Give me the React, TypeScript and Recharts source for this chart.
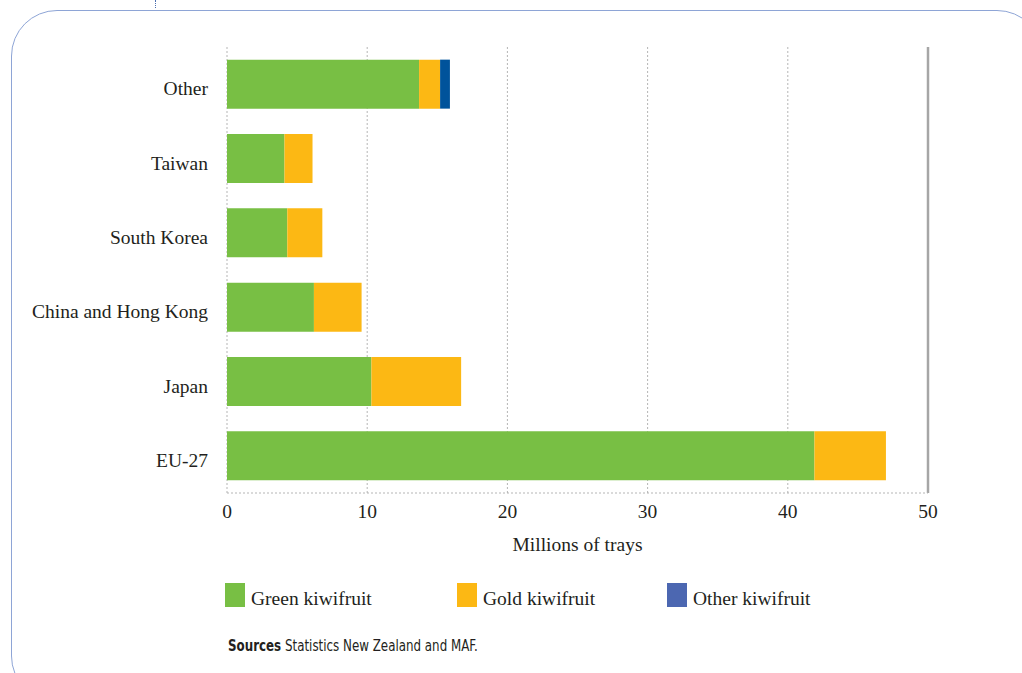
import { BarChart, Bar, XAxis, YAxis, CartesianGrid, Legend, ReferenceLine } from "recharts"

// categories top to bottom
const markets = ["Other", "Taiwan", "South Korea", "China and Hong Kong", "Japan", "EU-27"]

// millions of trays
const green = [13.7, 4.1, 4.3, 6.2, 10.3, 41.9]
const gold = [1.5, 2.0, 2.5, 3.4, 6.4, 5.1]
const otherKiwi = [0.7, 0, 0, 0, 0, 0]

const xTicks = [0, 10, 20, 30, 40, 50]

const series = [
  { key: "green", name: "Green kiwifruit", fill: "#78bf44", swatch: "#78bf44" },
  { key: "gold", name: "Gold kiwifruit", fill: "#fcb814", swatch: "#fcb814" },
  { key: "other", name: "Other kiwifruit", fill: "#00539b", swatch: "#4c67b1" },
]

const data = markets.map((name, i) => ({
  name,
  green: green[i],
  gold: gold[i],
  other: otherKiwi[i],
}))

const serif = '"Liberation Serif", "Times New Roman", serif'
const textSize = 19.5

function CategoryTick(props: any) {
  const { x, y, payload } = props
  return (
    <text x={x - 11} y={y} dy={11} textAnchor="end" fontFamily={serif} fontSize={textSize} fill="#231f20">
      {payload.value}
    </text>
  )
}

function KiwiLegend() {
  const lefts = [225, 457, 667]
  return (
    <div style={{ position: "relative", width: 700, height: 26 }}>
      {series.map((s, i) => (
        <div key={s.key} style={{ position: "absolute", left: lefts[i] - 225, top: 0, display: "flex", alignItems: "flex-end" }}>
          <span style={{ display: "inline-block", width: 20, height: 24, background: s.swatch }} />
          <span style={{ marginLeft: 6, fontFamily: serif, fontSize: textSize, color: "#231f20", lineHeight: "20px", position: "relative", top: 2 }}>{s.name}</span>
        </div>
      ))}
    </div>
  )
}

export default function App() {
  return (
    <div style={{ position: "absolute", left: 0, top: 0, width: 1022, height: 673, overflow: "hidden", background: "#fff" }}>
      {/* frame */}
      <div
        style={{
          position: "absolute",
          left: 11,
          top: 10,
          width: 1030,
          height: 690,
          border: "1.5px solid #8ea5d6",
          borderRadius: 46,
        }}
      />
      <div style={{ position: "absolute", left: 155, top: 0, height: 8, borderLeft: "1.5px dotted #4c6fb0" }} />

      <div style={{ position: "absolute", left: 0, top: 0 }}>
        <BarChart
          width={1022}
          height={673}
          data={data}
          layout="vertical"
          barCategoryGap="17%"
          margin={{ top: 47, right: 94, left: 0, bottom: 150 }}
        >
          <CartesianGrid horizontal={false} stroke="#b5b5b5" strokeDasharray="2 2" />
          <XAxis
            type="number"
            domain={[0, 50]}
            ticks={xTicks}
            height={30}
            tickLine={false}
            tickMargin={5}
            axisLine={{ stroke: "#b5b5b5", strokeDasharray: "2 2" }}
            tick={{ fontFamily: serif, fontSize: textSize, fill: "#231f20" }}
            label={{
              value: "Millions of trays",
              position: "bottom",
              offset: 14,
              style: { fontFamily: serif, fontSize: textSize, fill: "#231f20" },
            }}
          />
          <YAxis
            type="category"
            dataKey="name"
            width={227}
            axisLine={false}
            tickLine={false}
            tick={CategoryTick}
          />
          <ReferenceLine x={50} stroke="#a6a6a6" strokeWidth={2.5} />
          {series.map((s) => (
            <Bar key={s.key} dataKey={s.key} name={s.name} stackId="a" fill={s.fill} isAnimationActive={false} />
          ))}
          <Legend
            layout="horizontal"
            verticalAlign="middle"
            align="center"
            content={KiwiLegend}
            wrapperStyle={{ left: 225, top: 583, width: 700, height: 26 }}
          />
        </BarChart>
      </div>

      <div
        style={{
          position: "absolute",
          left: 228,
          top: 637,
          fontFamily: '"Liberation Sans Narrow", "DejaVu Sans Condensed", sans-serif',
          fontSize: 15,
          color: "#231f20",
          transform: "scaleX(0.88)",
          transformOrigin: "left top",
          whiteSpace: "nowrap",
        }}
      >
        <b>Sources</b> Statistics New Zealand and MAF.
      </div>
    </div>
  )
}
